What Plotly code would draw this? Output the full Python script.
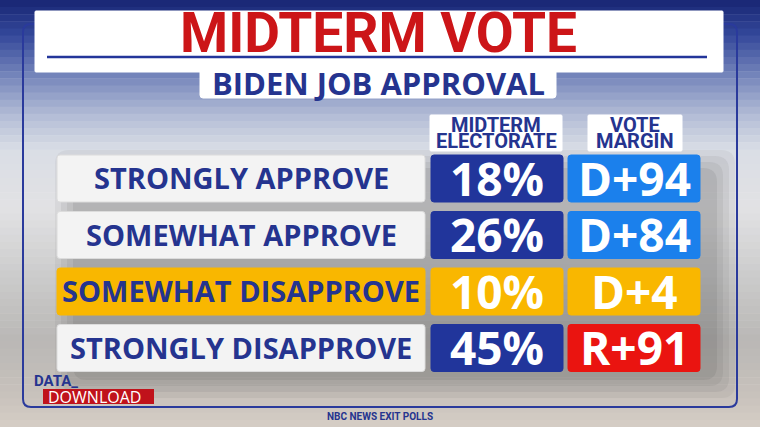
import plotly.graph_objects as go

# data
title = "MIDTERM VOTE"
subtitle = "BIDEN JOB APPROVAL"
col_headers = [["MIDTERM", "ELECTORATE"], ["VOTE", "MARGIN"]]
categories = ["STRONGLY APPROVE", "SOMEWHAT APPROVE", "SOMEWHAT DISAPPROVE", "STRONGLY DISAPPROVE"]
electorate_pct = [18, 26, 10, 45]
margin_party = ["D", "D", "D", "R"]
margin_pts = [94, 84, 4, 91]
highlight = [False, False, True, False]
source = "NBC NEWS EXIT POLLS"

W, H = 760, 427
NAVY = "#25348f"
RED = "#cc1518"
YELLOW = "#f9b700"

fig = go.Figure()
shapes = []
ann = []


def rrect(x0, y0, x1, y1, r=3):
    return (f"M{x0+r},{y0} L{x1-r},{y0} Q{x1},{y0} {x1},{y0+r} L{x1},{y1-r} Q{x1},{y1} {x1-r},{y1} "
            f"L{x0+r},{y1} Q{x0},{y1} {x0},{y1-r} L{x0},{y0+r} Q{x0},{y0} {x0+r},{y0} Z")


def box(x0, y0, x1, y1, fill, line=None, r=3, layer="above"):
    shapes.append(dict(type="path", path=rrect(x0, y0, x1, y1, r), xref="x", yref="y",
                       fillcolor=fill, line=dict(color=line or fill, width=1), layer=layer))


def text(x, y, s, size, color, family="Open Sans", weight="bold", xanchor="center"):
    ann.append(dict(x=x, y=y, xref="x", yref="y", text=s, showarrow=False,
                    xanchor=xanchor, yanchor="middle",
                    font=dict(family=family, size=size, color=color, weight=weight)))


# background: soft vertical gradient standing in for the blurred photo
stops = [(0, (24, 38, 115)), (35, (52, 72, 155)), (80, (124, 140, 190)), (115, (178, 188, 214)),
         (150, (218, 222, 230)), (210, (226, 226, 228)), (270, (206, 206, 206)),
         (340, (186, 184, 182)), (395, (200, 194, 188)), (427, (214, 206, 198))]
n = 60
for k in range(n):
    y0 = H * k / n
    y1 = H * (k + 1) / n + 0.5
    ym = (y0 + y1) / 2
    for (a, ca), (b, cb) in zip(stops[:-1], stops[1:]):
        if a <= ym <= b:
            t = (ym - a) / (b - a)
            c = tuple(int(ca[i] + (cb[i] - ca[i]) * t) for i in range(3))
            break
    shapes.append(dict(type="rect", x0=0, x1=W, y0=y0, y1=y1, xref="x", yref="y",
                       fillcolor=f"rgb{c}", line=dict(width=0), layer="below"))

# soft shadow behind the table
for inset, op in [(0, 0.06), (6, 0.07), (12, 0.08), (18, 0.09)]:
    shapes.append(dict(type="path", path=rrect(55 + inset, 150 + inset, 735 - inset, 398 - inset, 14),
                       xref="x", yref="y", fillcolor=f"rgba(60,60,60,{op})", line=dict(width=0),
                       layer="below"))

# frame
shapes.append(dict(type="path", path=rrect(23, 24, 737, 407, 8), xref="x", yref="y",
                   line=dict(color="#2a3a9c", width=2), fillcolor="rgba(0,0,0,0)"))

# title block
box(35, 11, 723, 72, "white", r=1)
shapes.append(dict(type="line", x0=47, x1=707, y0=57, y1=57, xref="x", yref="y",
                   line=dict(color="#23359a", width=2.5)))
text(378, 33, title, 55, RED, family="Roboto")
box(200, 69, 556, 98, "white", r=3)
text(378, 83, subtitle, 31, NAVY)

# column headers
hdr_x = [(430, 562), (588, 682)]
for (x0, x1), lines in zip(hdr_x, col_headers):
    box(x0, 115, x1, 151, "white", r=1)
    text((x0 + x1) / 2, 124.5, lines[0], 20, NAVY, family="Roboto")
    text((x0 + x1) / 2, 141, lines[1], 20, NAVY, family="Roboto")

# rows
row_h = 47
row_step = 56.5
for i, cat in enumerate(categories):
    y0 = 155 + i * row_step
    y1 = y0 + row_h
    yc = (y0 + y1) / 2
    if highlight[i]:
        lab_fill, num_fill, mar_fill = YELLOW, YELLOW, YELLOW
        lab_line = YELLOW
    else:
        lab_fill, num_fill = "#f3f3f3", "#21359b"
        lab_line = "#dcdcdc"
        mar_fill = "#1b80ec" if margin_party[i] == "D" else "#ea1410"
    box(57, y0, 425, y1, lab_fill, line=lab_line)
    box(431, y0, 563, y1, num_fill)
    box(568, y0, 700, y1, mar_fill)
    text(241, yc - 1, cat, 29, NAVY)
    text(497, yc - 1, f"{electorate_pct[i]}%", 46, "white")
    text(634, yc - 1, f"{margin_party[i]}+{margin_pts[i]}", 46, "white")

# logo and source
text(32, 381, "DATA_", 15, NAVY, family="Roboto", xanchor="left")
shapes.append(dict(type="rect", x0=43, x1=154, y0=389, y1=404, xref="x", yref="y",
                   fillcolor="#c0121b", line=dict(width=0)))
text(46, 397, "DOWNLOAD", 16, "white", weight="normal", xanchor="left")
text(380, 416, source, 10, NAVY, family="Roboto")

fig.update_layout(
    width=W, height=H,
    margin=dict(l=0, r=0, t=0, b=0),
    paper_bgcolor="white", plot_bgcolor="white",
    xaxis=dict(range=[0, W], visible=False, fixedrange=True),
    yaxis=dict(range=[H, 0], visible=False, fixedrange=True),
    shapes=shapes, annotations=ann,
    showlegend=False,
)
# the page's default body margin would shift the graphic by 8px
fig.write_html("out.html", config={"displayModeBar": False},
               post_script="document.body.style.margin='0';")
